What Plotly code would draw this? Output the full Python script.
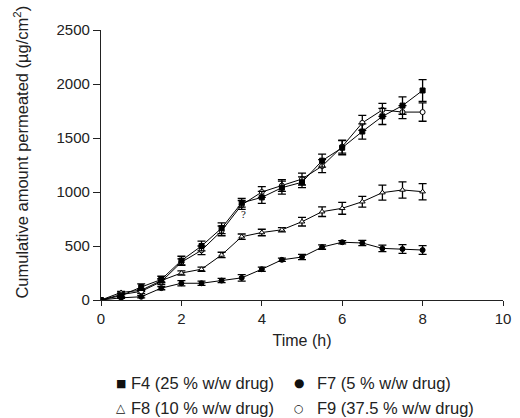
import plotly.graph_objects as go

time_h = [0, 0.5, 1, 1.5, 2, 2.5, 3, 3.5, 4, 4.5, 5, 5.5, 6, 6.5, 7, 7.5, 8]

f4 = [0, 40, 120, 190, 365, 500, 665, 900, 950, 1040, 1090, 1290, 1410, 1560, 1700, 1800, 1940]
f4_err = [0, 15, 30, 30, 40, 45, 50, 40, 55, 60, 50, 60, 65, 70, 75, 80, 100]
f9 = [0, 50, 80, 170, 350, 460, 640, 880, 1000, 1060, 1120, 1240, 1420, 1640, 1760, 1740, 1740]
f9_err = [0, 15, 20, 25, 30, 40, 45, 40, 50, 55, 55, 60, 60, 70, 60, 60, 85]
f8 = [0, 70, 90, 180, 250, 285, 417, 586, 625, 650, 725, 818, 849, 910, 994, 1019, 1003]
f8_err = [0, 10, 10, 15, 20, 20, 25, 25, 30, 20, 40, 45, 55, 50, 70, 75, 75]
f7 = [0, 20, 30, 110, 155, 155, 180, 205, 285, 372, 398, 490, 535, 528, 478, 472, 463]
f7_err = [0, 5, 10, 15, 25, 20, 20, 30, 20, 15, 25, 20, 15, 25, 30, 40, 40]

legend_symbols = ["\u25A0", "\u25CF", "\u25B3", "\u25CB"]
legend_labels = ["F4 (25 % w/w drug)", "F7 (5 % w/w drug)",
                 "F8 (10 % w/w drug)", "F9 (37.5 % w/w drug)"]

FONT = "Liberation Sans, Arial, sans-serif"

fig = go.Figure()

def add_series(y, err, symbol, fill):
    fig.add_trace(go.Scatter(
        x=time_h, y=y, mode="lines+markers",
        line=dict(color="black", width=1),
        marker=dict(symbol=symbol, size=5, color=fill, line=dict(color="black", width=1)),
        error_y=dict(type="data", array=err, visible=True, color="black", thickness=1.3, width=4),
        showlegend=False, hoverinfo="x+y"))

add_series(f7, f7_err, "circle", "black")
add_series(f8, f8_err, "triangle-up", "white")
add_series(f9, f9_err, "circle", "white")
add_series(f4, f4_err, "square", "black")

fig.update_layout(
    width=520, height=418,
    margin=dict(l=101, r=9, t=30, b=118),
    paper_bgcolor="white", plot_bgcolor="white",
    font=dict(family=FONT, size=15, color="#222"),
    xaxis=dict(range=[0, 10], tickvals=[0, 2, 4, 6, 8, 10], showgrid=False, zeroline=False,
               showline=True, linecolor="#222", linewidth=1.3, ticks="outside", ticklen=5,
               tickcolor="#222", tickfont=dict(size=15),
               title=dict(text="Time (h)", font=dict(size=16), standoff=8)),
    yaxis=dict(range=[0, 2500], tickvals=[0, 500, 1000, 1500, 2000, 2500], showgrid=False,
               zeroline=False, showline=True, linecolor="#222", linewidth=1.3, ticks="outside",
               ticklen=7, tickcolor="#222", tickfont=dict(size=15)),
)

def px_x(p):
    return (p - 101) / 410

def px_y(p):
    return (300 - p) / 270

annotations = [
    dict(text="Cumulative amount permeated (\u00b5g/cm<sup>2</sup>)", xref="paper", yref="paper",
         x=px_x(19), y=px_y(152), xanchor="center", yanchor="middle", textangle=-90,
         showarrow=False, font=dict(size=16.5, color="#222")),
    dict(text="?", x=3.55, y=800, xref="x", yref="y", showarrow=False,
         font=dict(size=11, color="#111", family="Liberation Serif")),
]
sym_pos = [(121, 383), (303, 383), (121, 408), (303, 408)]
sym_size = [11, 12, 12, 11]
txt_pos = [(130, 383), (319, 383), (130, 408), (319, 408)]
for s, sz, (sx, sy) in zip(legend_symbols, sym_size, sym_pos):
    annotations.append(dict(text=s, xref="paper", yref="paper", x=px_x(sx), y=px_y(sy),
                            xanchor="center", yanchor="middle", showarrow=False,
                            font=dict(size=sz, color="#111", family="DejaVu Sans")))
for lab, (tx, ty) in zip(legend_labels, txt_pos):
    annotations.append(dict(text=lab, xref="paper", yref="paper", x=px_x(tx), y=px_y(ty),
                            xanchor="left", yanchor="middle", showarrow=False,
                            font=dict(size=16.5, color="#222")))
fig.update_layout(annotations=annotations)

fig.write_html("out.html", config={"displayModeBar": False},
               post_script="document.body.style.margin='0';document.body.style.overflow='hidden';")
